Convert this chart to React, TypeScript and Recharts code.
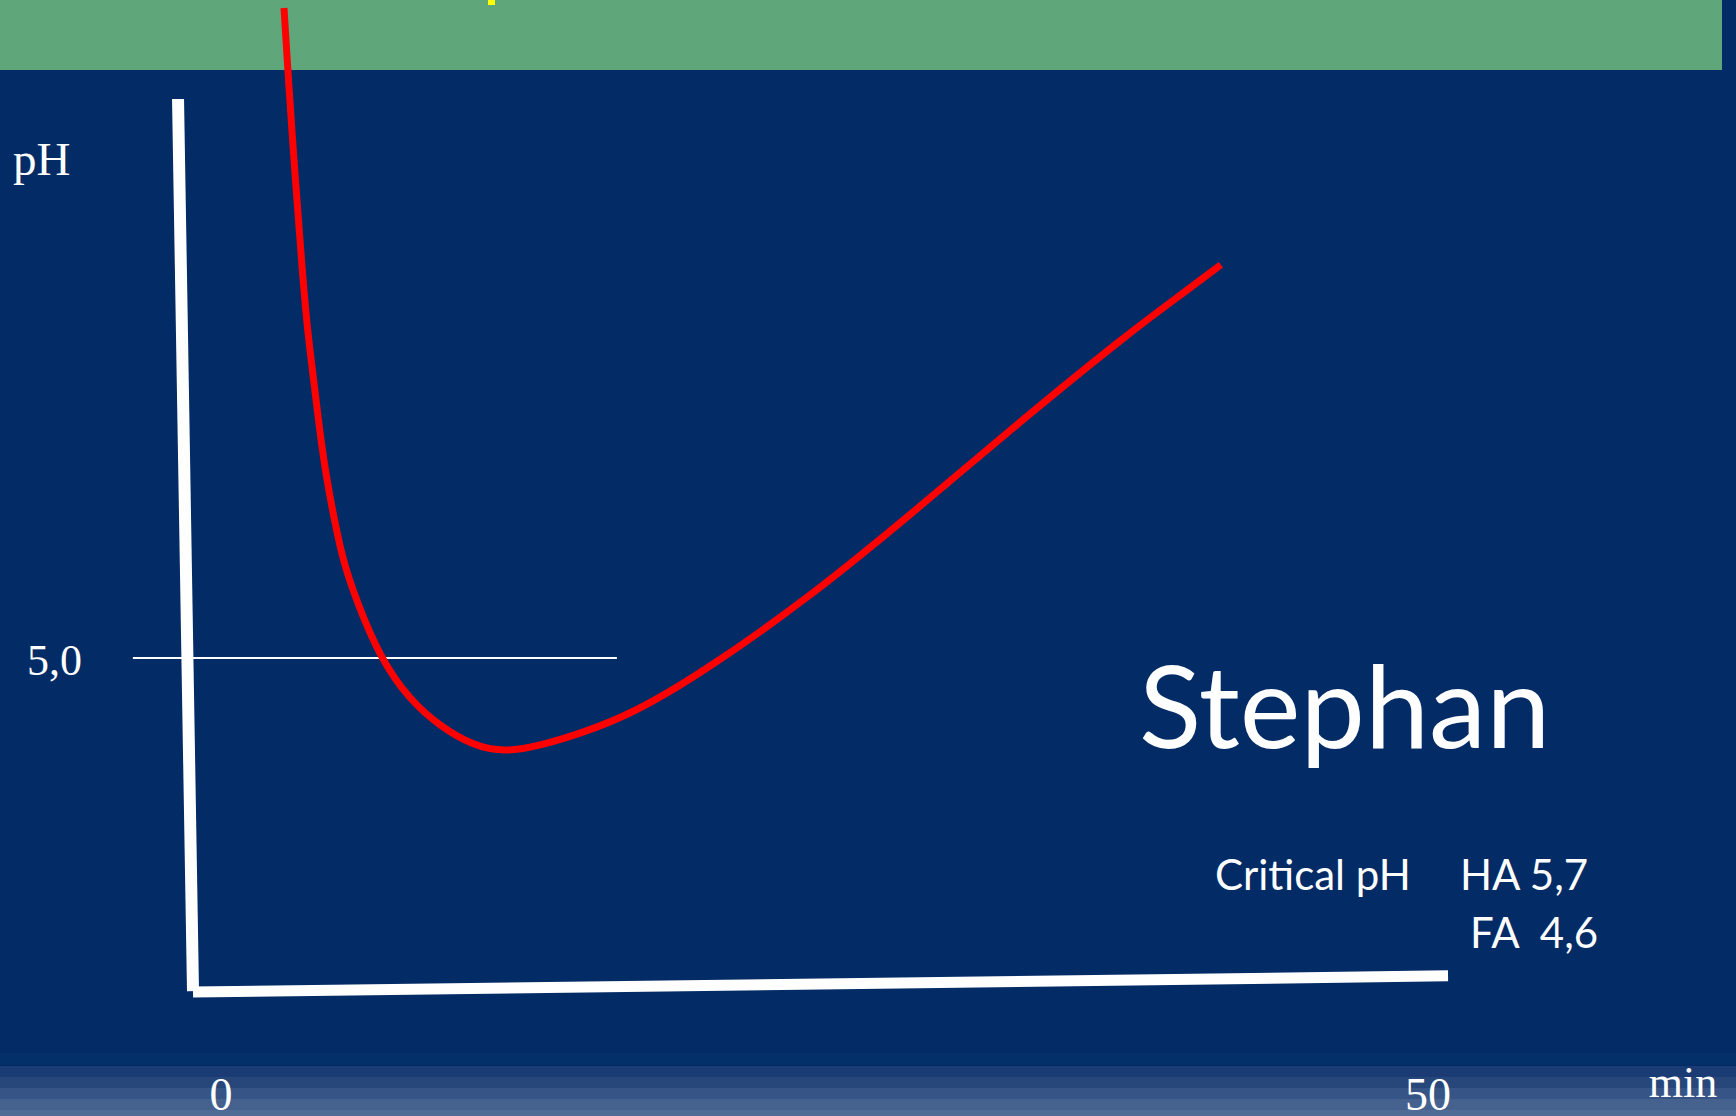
import { LineChart, Line, XAxis, YAxis, ReferenceLine } from 'recharts'

// time (min) and plaque pH
const minutes = [2.61, 2.78, 3.11, 3.36, 3.56, 3.85, 4.23, 4.68, 5.05, 5.59, 6.59, 7.83, 9.07, 10.44, 11.76, 13.21, 15.0, 17.07, 19.84, 24.27, 28.71, 33.14, 37.61, 39.81, 41.42]
const phValues = [7.0, 6.79, 6.44, 6.2, 6.02, 5.85, 5.61, 5.43, 5.3, 5.18, 5.0, 4.87, 4.79, 4.73, 4.71, 4.73, 4.77, 4.83, 4.95, 5.18, 5.45, 5.73, 6.0, 6.12, 6.21]
const xTicks = [0, 50]

// hand-drawn axes and the 5,0 guide, in data units
const yAxisSeg = [{ x: -1.78, y: 6.72 }, { x: -1.16, y: 3.975 }]
const xAxisSeg = [{ x: -1.16, y: 3.972 }, { x: 50.83, y: 4.022 }]
const guideSeg = [{ x: -3.65, y: 5.0 }, { x: 16.4, y: 5.0 }]

const data = minutes.map((m, i) => ({ min: m, ph: phValues[i] }))

const stripes = ['#04306a', '#1a3b73', '#27477b', '#365586', '#45628f', '#506b96']

export default function App() {
  return (
    <div style={{ position: 'relative', width: 1736, height: 1116, background: '#032b66', overflow: 'hidden' }}>
      <style>{'body{margin:0}'}</style>
      <div style={{ position: 'absolute', left: 0, top: 0, width: 1722, height: 70, background: '#5fa77a' }} />
      <div style={{ position: 'absolute', left: 488, top: 0, width: 7, height: 5, background: '#ffff00' }} />
      {stripes.map((c, i) => (
        <div key={c} style={{ position: 'absolute', left: 0, top: 1053 + i * 11 + (i > 0 ? 2 : 0), width: 1736, height: 12, background: c }} />
      ))}

      <LineChart
        width={1736}
        height={1116}
        data={data}
        margin={{ top: 8, right: 308, bottom: 0, left: 221 }}
        style={{ position: 'absolute', left: 0, top: 0 }}
      >
        <XAxis
          dataKey="min"
          type="number"
          domain={[0, 50]}
          ticks={xTicks}
          height={133}
          axisLine={false}
          tickLine={false}
          tickMargin={88}
          tick={{ fill: '#ffffff', fontSize: 46, fontFamily: '"Liberation Serif", serif' }}
        />
        <YAxis hide type="number" domain={[4, 7]} />
        <ReferenceLine segment={guideSeg} stroke="#ffffff" strokeWidth={2} ifOverflow="visible" />
        <ReferenceLine segment={yAxisSeg} stroke="#ffffff" strokeWidth={12} ifOverflow="visible" />
        <ReferenceLine segment={xAxisSeg} stroke="#ffffff" strokeWidth={11} ifOverflow="visible" />
        <Line type="basis" dataKey="ph" stroke="#ff0000" strokeWidth={7} dot={false} isAnimationActive={false} />
      </LineChart>

      <svg width={1736} height={1116} style={{ position: 'absolute', left: 0, top: 0, pointerEvents: 'none' }}>
        <g fill="#ffffff" fontFamily='"Liberation Serif", serif'>
          <text x={13} y={175} fontSize={47}>pH</text>
          <text x={27} y={675} fontSize={44}>5,0</text>
          <text x={1683} y={1097} fontSize={44} textAnchor="middle">min</text>
        </g>
        <g fill="#ffffff" fontFamily="Lato, sans-serif">
          <text x={1139} y={748} fontSize={115}>Stephan</text>
          <text x={1215} y={890} fontSize={42}>Critical pH</text>
          <text x={1460} y={890} fontSize={42}>HA 5,7</text>
          <text x={1470} y={948} fontSize={42} style={{ whiteSpace: 'pre' }}>{'FA  4,6'}</text>
        </g>
      </svg>
    </div>
  )
}
